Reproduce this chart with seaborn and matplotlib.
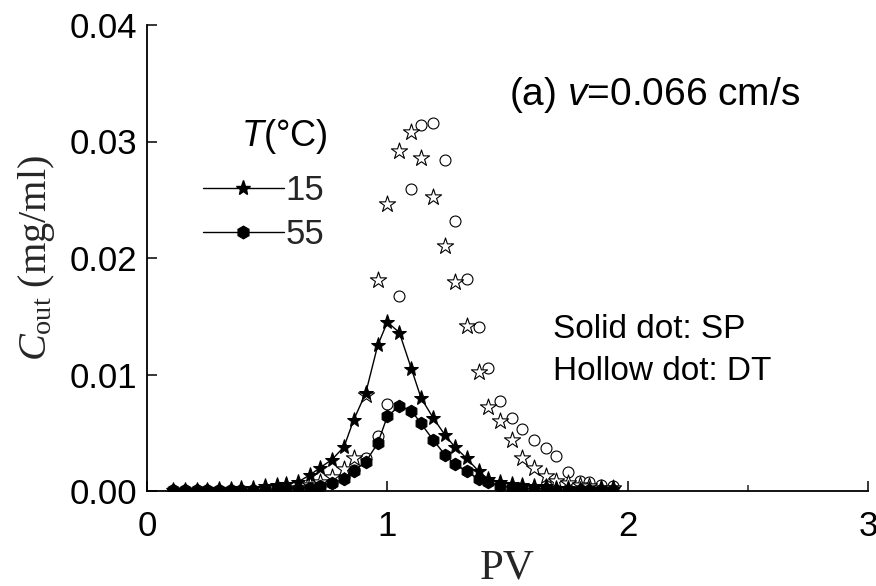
import numpy as np
import pandas as pd
import matplotlib
matplotlib.use("Agg")
import matplotlib.pyplot as plt
from matplotlib.lines import Line2D
from matplotlib.ticker import FixedLocator, FormatStrFormatter
import seaborn as sns

# ---------------- data ----------------
pv = [0.11, 0.16, 0.21, 0.25, 0.30, 0.35, 0.39, 0.44, 0.49, 0.54,
      0.58, 0.63, 0.68, 0.72, 0.77, 0.82, 0.86, 0.91, 0.96, 1.00,
      1.05, 1.10, 1.14, 1.19, 1.24, 1.28, 1.33, 1.38, 1.42, 1.47,
      1.52, 1.56, 1.61, 1.66, 1.70, 1.75, 1.80, 1.84, 1.89, 1.94]

sp_15 = [0.0001, 0.0001, 0.0001, 0.0001, 0.0002, 0.0002, 0.0003, 0.0003, 0.0004, 0.0005,
         0.0006, 0.0008, 0.0014, 0.0020, 0.0027, 0.0038, 0.0061, 0.0084, 0.0125, 0.0145,
         0.0136, 0.0105, 0.0080, 0.0063, 0.0048, 0.0038, 0.0028, 0.0017, 0.0010, 0.0008,
         0.0006, 0.0005, 0.0004, 0.0004, 0.0003, 0.0003, 0.0002, 0.0002, 0.0002, 0.0002]

sp_55 = [0.0001, 0.0001, 0.0001, 0.0001, 0.0001, 0.0001, 0.0001, 0.0001, 0.0001, 0.0002,
         0.0002, 0.0002, 0.0003, 0.0004, 0.0007, 0.0010, 0.0017, 0.0025, 0.0041, 0.0064,
         0.0073, 0.0069, 0.0058, 0.0044, 0.0031, 0.0023, 0.0017, 0.0010, 0.0008, 0.0004,
         0.0003, 0.0002, 0.0002, 0.0002, 0.0001, 0.0001, 0.0001, 0.0001, 0.0001, 0.0001]

dt_15 = [None, None, None, None, None, None, None, None, None, None,
         0.0002, 0.0003, 0.0005, 0.0008, 0.0012, 0.0019, 0.0028, 0.0082, 0.0181, 0.0246,
         0.0292, 0.0308, 0.0286, 0.0252, 0.0210, 0.0179, 0.0142, 0.0102, 0.0072, 0.0060,
         0.0044, 0.0028, 0.0020, 0.0013, 0.0009, 0.0007, 0.0005, 0.0004, 0.0003, 0.0003]

dt_55 = [None, None, None, None, None, None, None, None, None, None,
         None, None, 0.0002, 0.0004, 0.0007, 0.0012, 0.0018, 0.0028, 0.0047, 0.0075,
         0.0167, 0.0259, 0.0314, 0.0316, 0.0284, 0.0232, 0.0182, 0.0141, 0.0106, 0.0077,
         0.0063, 0.0053, 0.0044, 0.0037, 0.0030, 0.0016, 0.0009, 0.0008, 0.0005, 0.0004]

temps = ["15", "55"]
x_ticks = [0, 1, 2, 3]
x_minor = [0.5, 1.5, 2.5]
y_ticks = [0.00, 0.01, 0.02, 0.03, 0.04]

# ---------------- style ----------------
sns.set_style("ticks")
plt.rcParams["font.family"] = ["Liberation Sans", "DejaVu Sans"]
plt.rcParams["mathtext.fontset"] = "custom"
plt.rcParams["mathtext.rm"] = "Liberation Serif"
plt.rcParams["mathtext.it"] = "Liberation Serif:italic"
plt.rcParams["mathtext.sf"] = "Liberation Sans:italic"

df = pd.DataFrame({"pv": pv,
                   "sp15": pd.to_numeric(pd.Series(sp_15), errors="coerce"),
                   "sp55": pd.to_numeric(pd.Series(sp_55), errors="coerce"),
                   "dt15": pd.to_numeric(pd.Series(dt_15), errors="coerce"),
                   "dt55": pd.to_numeric(pd.Series(dt_55), errors="coerce")})

fig = plt.figure(figsize=(8.76, 5.86), dpi=100)
ax = fig.add_axes([147 / 876, 1 - 491 / 586, (868 - 147) / 876, (491 - 25) / 586])

# hollow dots (DT)
d15 = df.dropna(subset=["dt15"])
d55 = df.dropna(subset=["dt55"])
sns.scatterplot(data=d55, x="pv", y="dt55", ax=ax, marker="o", s=62,
                facecolor="white", edgecolor="black", linewidth=0.8, zorder=3, legend=False)
sns.scatterplot(data=d15, x="pv", y="dt15", ax=ax, marker="*", s=150,
                facecolor="white", edgecolor="black", linewidth=0.8, zorder=3, legend=False)

# solid dots (SP) with lines
sns.lineplot(data=df, x="pv", y="sp15", ax=ax, color="black", lw=1.0,
             marker="*", markersize=11, markeredgecolor="black", markerfacecolor="black",
             zorder=4, legend=False)
sns.lineplot(data=df, x="pv", y="sp55", ax=ax, color="black", lw=1.0,
             marker="h", markersize=9, markeredgecolor="black", markerfacecolor="black",
             zorder=4, legend=False)

ax.set_xlim(0, 3)
ax.set_ylim(0, 0.04)
ax.xaxis.set_major_locator(FixedLocator(x_ticks))
ax.xaxis.set_minor_locator(FixedLocator(x_minor))
ax.yaxis.set_major_locator(FixedLocator(y_ticks))
ax.yaxis.set_major_formatter(FormatStrFormatter("%.2f"))
ax.xaxis.set_major_formatter(FormatStrFormatter("%d"))

sns.despine(ax=ax)
for s in ["left", "bottom"]:
    ax.spines[s].set_linewidth(1.3)
    ax.spines[s].set_color("black")

ax.tick_params(axis="both", which="major", direction="in", length=7, width=1.1,
               labelsize=25, colors="black")
ax.tick_params(axis="x", which="major", pad=14)
ax.tick_params(axis="y", which="major", pad=7)
ax.tick_params(axis="x", which="minor", direction="in", length=4, width=1.1)

ax.set_xlabel("PV", fontfamily="Liberation Serif", fontsize=31, labelpad=4)
ax.set_ylabel(r"$C_{\mathrm{out}}$ (mg/ml)", fontfamily="Liberation Serif", fontsize=29, labelpad=9)

ax.text(0.5015, 0.828, r"(a) $\mathsf{v}$=0.066 cm/s", transform=ax.transAxes,
        fontsize=28, ha="left", va="baseline", color="black")
ax.text(0.563, 0.329, "Solid dot: SP", transform=ax.transAxes,
        fontsize=24, ha="left", va="baseline", color="black")
ax.text(0.563, 0.239, "Hollow dot: DT", transform=ax.transAxes,
        fontsize=24, ha="left", va="baseline", color="black")

# legend (title drawn as its own text, right-aligned above the entries)
ax.text(0.2497, 0.7618, r"$\mathsf{T}$(°C)", transform=ax.transAxes,
        fontsize=26, ha="right", va="center", color="black")
handles = [Line2D([], [], color="black", lw=1.0, marker="*", markersize=11),
           Line2D([], [], color="black", lw=1.0, marker="h", markersize=9)]
leg = ax.legend(handles, temps, loc="upper left", bbox_to_anchor=(0.0773, 0.681),
                frameon=False, fontsize=25, handlelength=2.34, handletextpad=0.05,
                borderpad=0, borderaxespad=0, labelspacing=0.32)

fig.savefig("out.png", dpi=100)
